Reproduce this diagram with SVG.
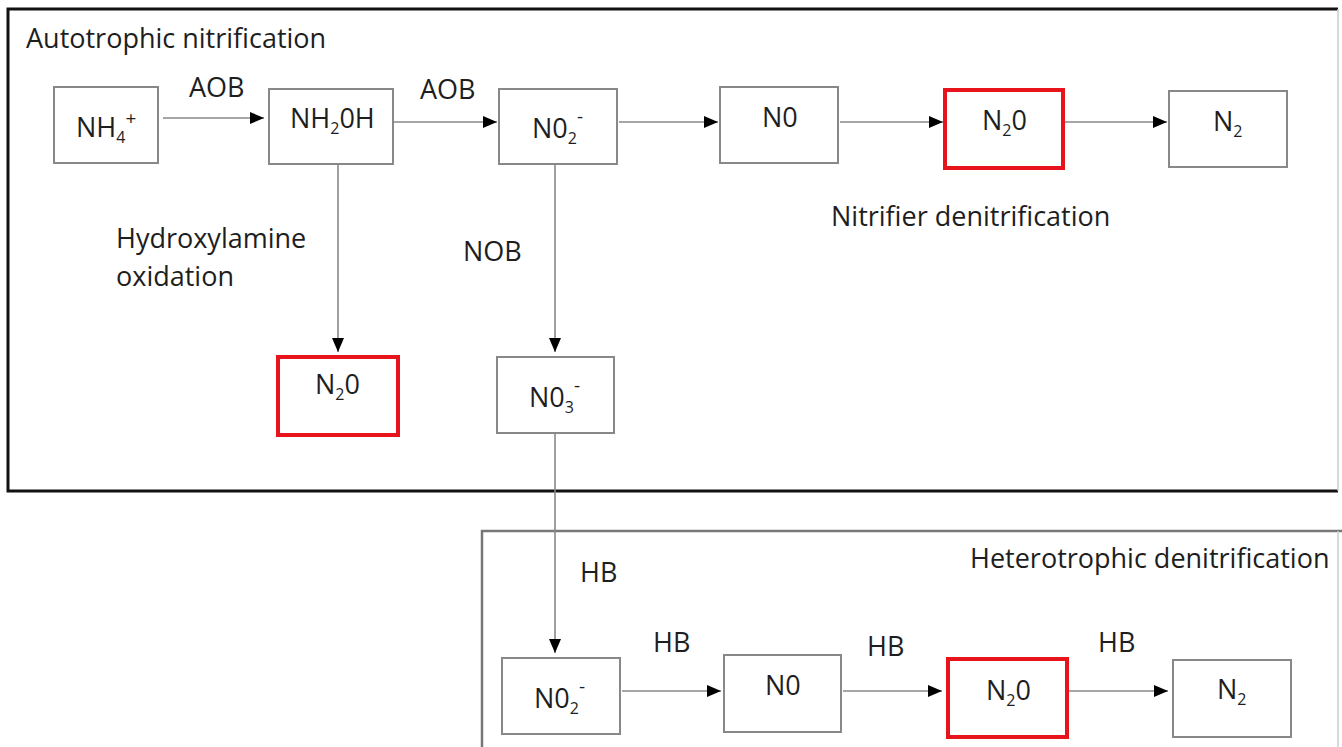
<svg xmlns="http://www.w3.org/2000/svg" width="1342" height="747" viewBox="0 0 1342 747">
<style>
text{font-family:"Open Sans","Liberation Sans",sans-serif;font-size:27px;fill:#1e1e1e}
.sub{font-size:16px}
.sup{font-size:19px}
.node{fill:#fff;stroke:#888;stroke-width:2}
.red{fill:#fff;stroke:#e8141b;stroke-width:4}
.conn{stroke:#888;stroke-width:1.6;fill:none;marker-end:url(#ah)}
</style>
<defs>
<marker id="ah" markerUnits="userSpaceOnUse" markerWidth="15" markerHeight="13" refX="14" refY="6" orient="auto">
<path d="M0,0 L14,6 L0,12 z" fill="#000"/>
</marker>
</defs>
<rect width="1342" height="747" fill="#fff"/>
<g id="groups">
<path d="M1338,9 L8,9 L8,491 L1338,491" fill="none" stroke="#111" stroke-width="3"/>
<line x1="1338" y1="9" x2="1338" y2="491" stroke="#ccc" stroke-width="1.5"/>
<path d="M482,747 L482,531 L1342,531" fill="none" stroke="#777" stroke-width="2.5"/>
<line x1="1338" y1="531" x2="1338" y2="747" stroke="#ccc" stroke-width="1.5"/>
<text x="26" y="48">Autotrophic nitrification</text>
<text x="970" y="568">Heterotrophic denitrification</text>
</g>
<g id="connectors">
<line class="conn" x1="163" y1="118" x2="264" y2="118"/>
<line class="conn" x1="393" y1="122" x2="497" y2="122"/>
<line class="conn" x1="619" y1="122" x2="718" y2="122"/>
<line class="conn" x1="840" y1="122" x2="943" y2="122"/>
<line class="conn" x1="1065" y1="122" x2="1167" y2="122"/>
<line class="conn" x1="338" y1="165" x2="338" y2="352"/>
<line class="conn" x1="555" y1="165" x2="555" y2="352"/>
<line class="conn" x1="555" y1="433" x2="555" y2="653"/>
<line class="conn" x1="622" y1="691" x2="721" y2="691"/>
<line class="conn" x1="843" y1="691" x2="942" y2="691"/>
<line class="conn" x1="1069" y1="691" x2="1168" y2="691"/>
<text x="189" y="97">AOB</text>
<text x="420" y="99">AOB</text>
<text x="831" y="226">Nitrifier denitrification</text>
<text x="116" y="248">Hydroxylamine</text>
<text x="116" y="286">oxidation</text>
<text x="463" y="261">NOB</text>
<text x="580" y="582">HB</text>
<text x="653" y="652">HB</text>
<text x="867" y="656">HB</text>
<text x="1098" y="652">HB</text>
</g>
<g id="nh4">
<rect class="node" x="54" y="87" width="104" height="76"/>
<text x="76" y="137">NH<tspan class="sub" dy="6">4</tspan><tspan class="sup" dy="-18">+</tspan></text>
</g>
<g id="nh2oh">
<rect class="node" x="269" y="89" width="124" height="75"/>
<text x="290" y="128">NH<tspan class="sub" dy="6">2</tspan><tspan dy="-6">0H</tspan></text>
</g>
<g id="no2-top">
<rect class="node" x="499" y="89" width="118" height="75"/>
<text x="532" y="138">N0<tspan class="sub" dy="6">2</tspan><tspan class="sup" dy="-21">-</tspan></text>
</g>
<g id="no-top">
<rect class="node" x="720" y="87" width="118" height="76"/>
<text x="762" y="127">N0</text>
</g>
<g id="n2o-top">
<rect class="red" x="945" y="90" width="118" height="78"/>
<text x="982" y="130">N<tspan class="sub" dy="6">2</tspan><tspan dy="-6">0</tspan></text>
</g>
<g id="n2-top">
<rect class="node" x="1169" y="91" width="118" height="76"/>
<text x="1213" y="131">N<tspan class="sub" dy="6">2</tspan></text>
</g>
<g id="n2o-left">
<rect class="red" x="278" y="357" width="120" height="78"/>
<text x="315" y="394">N<tspan class="sub" dy="6">2</tspan><tspan dy="-6">0</tspan></text>
</g>
<g id="no3">
<rect class="node" x="497" y="357" width="117" height="76"/>
<text x="529" y="407">N0<tspan class="sub" dy="6">3</tspan><tspan class="sup" dy="-21">-</tspan></text>
</g>
<g id="no2-bottom">
<rect class="node" x="502" y="658" width="118" height="76"/>
<text x="534" y="708">N0<tspan class="sub" dy="6">2</tspan><tspan class="sup" dy="-21">-</tspan></text>
</g>
<g id="no-bottom">
<rect class="node" x="724" y="655" width="117" height="77"/>
<text x="765" y="695">N0</text>
</g>
<g id="n2o-bottom">
<rect class="red" x="948" y="659" width="119" height="78"/>
<text x="986" y="700">N<tspan class="sub" dy="6">2</tspan><tspan dy="-6">0</tspan></text>
</g>
<g id="n2-bottom">
<rect class="node" x="1173" y="660" width="118" height="77"/>
<text x="1217" y="699">N<tspan class="sub" dy="6">2</tspan></text>
</g>
</svg>
